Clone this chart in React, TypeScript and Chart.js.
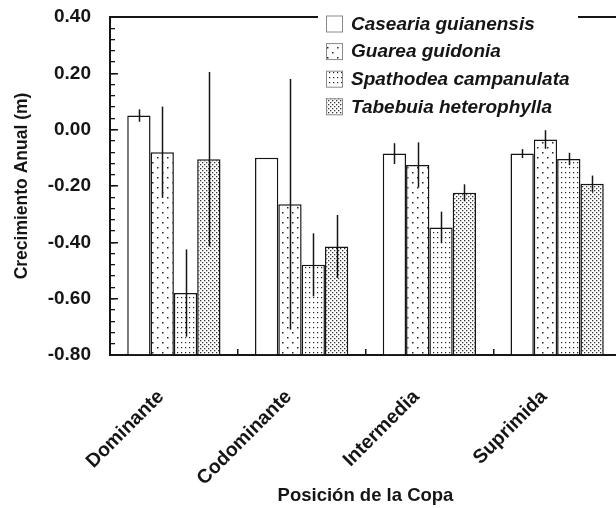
import React, { useEffect, useRef } from 'react';
import { Chart, registerables } from 'chart.js';

Chart.register(...registerables);

// ---- data ----
const categories = ['Dominante', 'Codominante', 'Intermedia', 'Suprimida'];
const speciesNames = ['Casearia guianensis', 'Guarea guidonia', 'Spathodea campanulata', 'Tabebuia heterophylla'];

const caseariaValues = [0.05, -0.1, -0.085, -0.085];
const caseariaErrors = [0.022, 0, 0.037, 0.016];
const guareaValues = [-0.08, -0.265, -0.125, -0.035];
const guareaErrors = [0.162, 0.445, 0.08, 0.033];
const spathodeaValues = [-0.58, -0.48, -0.347, -0.104];
const spathodeaErrors = [0.155, 0.112, 0.056, 0.022];
const tabebuiaValues = [-0.105, -0.415, -0.224, -0.192];
const tabebuiaErrors = [0.31, 0.112, 0.03, 0.029];

const yTickValues = [-0.8, -0.6, -0.4, -0.2, 0, 0.2, 0.4];
const yMin = -0.8;
const yMax = 0.4;
const yMinorStep = 0.04;

const xTitle = 'Posición de la Copa';
const yTitle = 'Crecimiento Anual (m)';

const INK = '#151515';
const BODY_FONT = '"Liberation Sans", Arial, sans-serif';

function makePattern(w: number, h: number, dots: number[][], size: number, color: string) {
  const c = document.createElement('canvas');
  c.width = w;
  c.height = h;
  const g = c.getContext('2d')!;
  g.fillStyle = '#ffffff';
  g.fillRect(0, 0, w, h);
  g.fillStyle = color;
  dots.forEach(([x, y]) => g.fillRect(x, y, size, size));
  return g.createPattern(c, 'repeat')!;
}

const errorBarPlugin = {
  id: 'errorBars',
  afterDatasetsDraw(chart: any) {
    const ctx = chart.ctx;
    const ys = chart.scales.y;
    ctx.save();
    ctx.strokeStyle = INK;
    ctx.lineWidth = 1.5;
    chart.data.datasets.forEach((ds: any, di: number) => {
      const meta = chart.getDatasetMeta(di);
      meta.data.forEach((bar: any, i: number) => {
        const v = ds.data[i];
        const e = ds.errors[i];
        if (!e) return;
        ctx.beginPath();
        ctx.moveTo(Math.round(bar.x) + 0.5, ys.getPixelForValue(v + e));
        ctx.lineTo(Math.round(bar.x) + 0.5, ys.getPixelForValue(v - e));
        ctx.stroke();
      });
    });
    ctx.restore();
  },
};

const boxLegendPlugin = {
  id: 'boxLegend',
  afterDraw(chart: any) {
    const ctx = chart.ctx;
    ctx.save();
    ctx.fillStyle = '#ffffff';
    ctx.fillRect(318, 0, 260, 120);
    const rowY0 = 23.5;
    const pitch = 27.6;
    chart.data.datasets.forEach((ds: any, i: number) => {
      const cy = rowY0 + i * pitch;
      ctx.fillStyle = ds.backgroundColor;
      ctx.fillRect(326, cy - 8, 16, 16);
      ctx.strokeStyle = '#8a8a8a';
      ctx.lineWidth = 1;
      ctx.strokeRect(326.5, cy - 7.5, 16, 16);
      ctx.fillStyle = INK;
      ctx.font = 'italic bold 19px ' + BODY_FONT;
      ctx.textAlign = 'left';
      ctx.textBaseline = 'middle';
      ctx.fillText(ds.label, 351, cy + 1);
    });
    ctx.restore();
  },
};

export default function App() {
  const ref = useRef<HTMLCanvasElement>(null);

  useEffect(() => {
    const canvas = ref.current!;
    const patGuarea = makePattern(10, 10, [[2, 2], [7, 7]], 1.5, '#222');
    const patSpathodea = makePattern(4, 5, [[1, 2]], 1.2, '#222');
    const patTabebuia = makePattern(4, 4, [[0, 0], [2, 2]], 1.3, '#333');

    const mk = (label: string, data: number[], errors: number[], bg: any) => ({
      label,
      data,
      errors,
      backgroundColor: bg,
      borderColor: INK,
      borderWidth: 1.5,
      base: yMin,
      categoryPercentage: 0.73,
      barPercentage: 1.0,
    });

    const chart = new Chart(canvas, {
      type: 'bar',
      data: {
        labels: categories,
        datasets: [
          mk(speciesNames[0], caseariaValues, caseariaErrors, '#ffffff'),
          mk(speciesNames[1], guareaValues, guareaErrors, patGuarea),
          mk(speciesNames[2], spathodeaValues, spathodeaErrors, patSpathodea),
          mk(speciesNames[3], tabebuiaValues, tabebuiaErrors, patTabebuia),
        ] as any,
      },
      plugins: [errorBarPlugin, boxLegendPlugin],
      options: {
        responsive: false,
        animation: false,
        devicePixelRatio: 1,
        layout: { padding: { top: 17, right: 19, bottom: 0, left: 0 } },
        plugins: { legend: { display: false }, tooltip: { enabled: false } },
        scales: {
          x: {
            type: 'category',
            position: 'bottom',
            grid: { drawOnChartArea: false, drawTicks: true, tickLength: -6, color: INK, lineWidth: 1.5, offset: true },
            border: { display: true, color: INK, width: 2 },
            ticks: {
              autoSkip: false,
              minRotation: 45,
              maxRotation: 45,
              padding: 36.5,
              labelOffset: -13,
              color: INK,
              font: { family: BODY_FONT, size: 19.5, weight: 'bold' },
            },
            title: {
              display: true,
              text: xTitle,
              color: INK,
              font: { family: BODY_FONT, size: 18.5, weight: 'bold' },
              padding: { top: 0, bottom: 1 },
            },
            afterFit: (s: any) => {
              s.height = 153;
              s.paddingLeft = 0;
              s.paddingRight = 0;
            },
          },
          x2: {
            type: 'category',
            axis: 'x',
            position: 'top',
            display: true,
            ticks: { display: false },
            grid: { display: false },
            border: { display: true, color: INK, width: 2 },
            afterFit: (s: any) => {
              s.height = 0;
              s.paddingLeft = 0;
              s.paddingRight = 0;
            },
          },
          y: {
            type: 'linear',
            position: 'left',
            weight: 1,
            min: yMin,
            max: yMax,
            afterBuildTicks: (s: any) => {
              s.ticks = yTickValues.map((v) => ({ value: v }));
            },
            grid: { drawOnChartArea: false, drawTicks: true, tickLength: -8, color: INK, lineWidth: 1.5 },
            border: { display: true, color: INK, width: 2 },
            ticks: {
              padding: 27,
              color: INK,
              font: { family: BODY_FONT, size: 19, weight: 'bold' },
              callback: (v: any) => (Math.abs(Number(v)) < 1e-9 ? 0 : Number(v)).toFixed(2),
            },
            title: {
              display: true,
              text: yTitle,
              color: INK,
              font: { family: BODY_FONT, size: 17.5, weight: 'bold' },
              padding: { top: 12, bottom: 0 },
            },
            afterFit: (s: any) => {
              s.width = 110;
              s.paddingTop = 0;
              s.paddingBottom = 0;
            },
          },
          y2: {
            type: 'linear',
            axis: 'y',
            position: 'left',
            weight: 0,
            min: yMin,
            max: yMax,
            ticks: { display: false, stepSize: yMinorStep },
            grid: { drawOnChartArea: false, drawTicks: true, tickLength: -5, color: INK, lineWidth: 1.3 },
            border: { display: false },
            afterFit: (s: any) => {
              s.width = 0;
              s.paddingTop = 0;
              s.paddingBottom = 0;
            },
          },
        },
      } as any,
    });
    return () => chart.destroy();
  }, []);

  return (
    <div style={{ position: 'absolute', left: 0, top: 0, width: 616, height: 508, overflow: 'hidden', background: '#fff' }}>
      <canvas ref={ref} width={640} height={508} style={{ display: 'block' }} />
    </div>
  );
}
